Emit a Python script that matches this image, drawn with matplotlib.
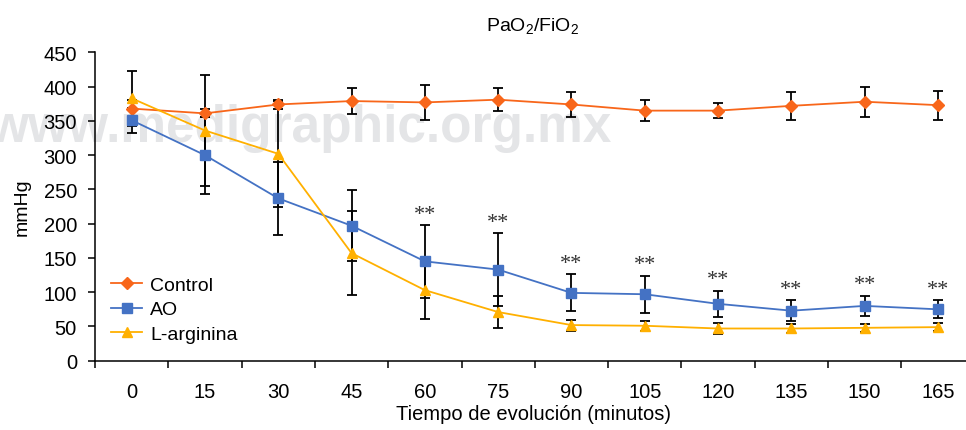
import matplotlib
matplotlib.use("Agg")
import matplotlib.pyplot as plt
import numpy as np

plt.rcParams['font.family'] = ['Liberation Sans', 'DejaVu Sans']
plt.rcParams['mathtext.default'] = 'regular'

minutes = ['0', '15', '30', '45', '60', '75', '90', '105', '120', '135', '150', '165']

control = [368, 361, 374, 379, 377, 381, 374, 365, 365, 372, 378, 373]
control_err = [12, 6, 6, 19, 25, 17, 18, 15, 11, 20, 22, 21]

ao = [351, 300, 237, 197, 145, 133, 99, 97, 83, 73, 80, 75]
ao_err = [18, 56, 53, 52, 53, 53, 27, 27, 19, 15, 15, 13]

larg = [383, 336, 302, 157, 103, 71, 52, 51, 47, 47, 48, 49]
larg_err = [40, 81, 77, 61, 42, 23, 8, 7, 8, 6, 6, 6]

# significance marks over AO
sig = ['', '', '', '', '**', '**', '**', '**', '**', '**', '**', '**']

c_control = '#F8661A'
c_ao = '#4472C4'
c_larg = '#FFB000'

fig = plt.figure(figsize=(9.66, 4.31), dpi=100)

# watermark
fig.text(612 / 966, 1 - 141.7 / 431, 'www.medigraphic.org.mx', ha='right', va='baseline',
         fontsize=37, fontweight='bold', color='#E4E5E7', zorder=-1)

ax = fig.add_axes([95 / 966, (431 - 361.7) / 431, 879.6 / 966, 308.3 / 431])
ax.patch.set_alpha(0)
x = np.arange(len(minutes))

for vals, errs in [(control, control_err), (ao, ao_err), (larg, larg_err)]:
    ax.errorbar(x, vals, yerr=errs, fmt='none', ecolor='black', elinewidth=1.3,
                capsize=3.5, capthick=1.3, zorder=2)

ax.plot(x, control, color=c_control, marker='D', markersize=6.5, lw=1.3, label='Control', zorder=3)
ax.plot(x, ao, color=c_ao, marker='s', markersize=7, lw=1.3, label='AO', zorder=3)
ax.plot(x, larg, color=c_larg, marker='^', markersize=7, lw=1.3, label='L-arginina', zorder=3)

for i, s in enumerate(sig):
    if s:
        ax.text(x[i], ao[i] + ao_err[i] + 2, s, ha='center', va='bottom', fontsize=16,
                family=['Liberation Serif', 'DejaVu Serif'], color='#333333')

ax.set_xlim(-0.5, len(minutes) - 0.5)
ax.set_ylim(0, 450)
ax.set_yticks(np.arange(0, 451, 50))
ax.set_xticks(x)
ax.set_xticklabels(minutes)
ax.set_xticks(np.arange(-0.5, len(minutes), 1), minor=True)
ax.tick_params(axis='x', which='major', length=0, pad=15, labelsize=14.5)
ax.tick_params(axis='x', which='minor', length=5, width=1.1, direction='out')
ax.tick_params(axis='y', length=5, width=1.1, pad=8, labelsize=14.5)
ax.spines['top'].set_visible(False)
ax.spines['right'].set_visible(False)
ax.spines['left'].set_linewidth(1.1)
ax.spines['bottom'].set_linewidth(1.1)

ax.legend(loc='lower left', bbox_to_anchor=(0.005, 0.02), frameon=False, fontsize=14,
          handlelength=1.6, handletextpad=0.4, labelspacing=0.35, borderaxespad=0.2)

fig.text(533 / 966, 1 - 26 / 431, 'PaO$_2$/FiO$_2$', ha='center', va='center', fontsize=14)
fig.text(533 / 966, 1 - 415 / 431, 'Tiempo de evolución (minutos)', ha='center', va='center', fontsize=14.5)
fig.text(22 / 966, 1 - 207 / 431, 'mmHg', ha='center', va='center', rotation=90, fontsize=14)

fig.savefig('out.png', dpi=100)
